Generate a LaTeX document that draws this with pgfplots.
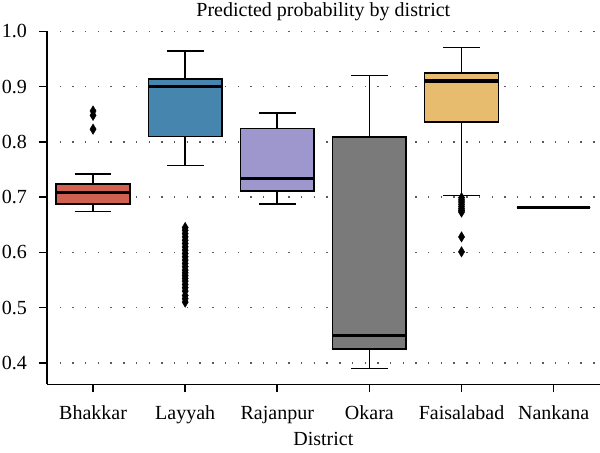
\documentclass[border=0pt]{standalone}
\usepackage{fontspec}
\setmainfont{Liberation Serif}
\usepackage{pgfplots}
\pgfplotsset{compat=1.18}
\usepgfplotslibrary{statistics}
\definecolor{cB}{HTML}{D0604F}
\definecolor{cL}{HTML}{4585AE}
\definecolor{cR}{HTML}{9E97CD}
\definecolor{cO}{HTML}{7A7A7A}
\definecolor{cF}{HTML}{E7BC6F}
\begin{document}
\begin{tikzpicture}
\useasboundingbox (-47bp,-67.7bp) rectangle (553bp,384.4bp);
\begin{axis}[
  at={(0,0)}, anchor=south west,
  scale only axis, width=552.7bp, height=353bp,
  xmin=-0.5, xmax=5.5, ymin=0.361, ymax=1.0,
  axis x line*=bottom, axis y line*=left,
  axis line style={-, line width=1.6bp, black},
  tick align=outside, major tick length=8bp,
  tick style={black, line width=1.6bp},
  xtick={0,1,2,3,4,5},
  xticklabels={Bhakkar,Layyah,Rajanpur,Okara,Faisalabad,Nankana},
  ytick={0.4,0.5,0.6,0.7,0.8,0.9,1.0},
  yticklabel style={/pgf/number format/fixed, /pgf/number format/fixed zerofill, /pgf/number format/precision=1, /pgf/number format/assume math mode=true},
  ticklabel style={font=\fontsize{20bp}{24bp}\selectfont},
  xticklabel style={anchor=base, yshift=-27.4bp},
  yticklabel style={anchor=east, inner sep=0pt, xshift=-12bp},
  ymajorgrids,
  major grid style={dash pattern=on 1.4bp off 11.3bp, line width=1.4bp, color=black!65},
  title={Predicted probability by district},
  title style={font=\fontsize{20bp}{24bp}\selectfont, at={(axis description cs:0.5,1)}, anchor=base, yshift=9.4bp},
  xlabel={District},
  xlabel style={font=\fontsize{20bp}{24bp}\selectfont, at={(axis description cs:0.5,0)}, anchor=base, yshift=-60.7bp},
  boxplot/draw direction=y,
  boxplot/every median/.style={line width=3.4bp, draw=black},
  boxplot/every whisker/.style={line width=1.6bp, draw=black},
  boxplot/every box/.style={line width=1.6bp, draw=black},
  clip=false,
]
% Bhakkar
\addplot[boxplot prepared={draw direction=y, lower whisker=0.674, lower quartile=0.688, median=0.708, upper quartile=0.724, upper whisker=0.742, draw position=0, box extend=0.8, whisker extend=0.4},
  fill=cB, draw=black, line width=1.6bp, mark=diamond*, mark size=5.2bp, mark options={fill=black, draw=black, line width=0.4bp, xscale=0.8}]
  coordinates {(0,0.823) (0,0.848) (0,0.856)};
% Layyah
\addplot[boxplot prepared={draw direction=y, lower whisker=0.757, lower quartile=0.810, median=0.900, upper quartile=0.914, upper whisker=0.965, draw position=1, box extend=0.8, whisker extend=0.4},
  fill=cL, draw=black, line width=1.6bp, mark=diamond*, mark size=5.2bp, mark options={fill=black, draw=black, line width=0.4bp, xscale=0.8}]
  coordinates {(1,0.510) (1,0.516) (1,0.522) (1,0.530) (1,0.536) (1,0.542) (1,0.548) (1,0.553) (1,0.558) (1,0.563) (1,0.568) (1,0.574) (1,0.580) (1,0.586) (1,0.592) (1,0.598) (1,0.604) (1,0.610) (1,0.616) (1,0.622) (1,0.628) (1,0.634) (1,0.640) (1,0.645)};
% Rajanpur
\addplot[boxplot prepared={draw direction=y, lower whisker=0.688, lower quartile=0.711, median=0.734, upper quartile=0.824, upper whisker=0.852, draw position=2, box extend=0.8, whisker extend=0.4},
  fill=cR, draw=black, line width=1.6bp]
  coordinates {};
% Okara
\addplot[boxplot prepared={draw direction=y, lower whisker=0.390, lower quartile=0.425, median=0.449, upper quartile=0.809, upper whisker=0.920, draw position=3, box extend=0.8, whisker extend=0.4},
  fill=cO, draw=black, line width=1.6bp]
  coordinates {};
% Faisalabad
\addplot[boxplot prepared={draw direction=y, lower whisker=0.703, lower quartile=0.836, median=0.910, upper quartile=0.925, upper whisker=0.971, draw position=4, box extend=0.8, whisker extend=0.4},
  fill=cF, draw=black, line width=1.6bp, mark=diamond*, mark size=5.2bp, mark options={fill=black, draw=black, line width=0.4bp, xscale=0.8}]
  coordinates {(4,0.699) (4,0.695) (4,0.691) (4,0.687) (4,0.683) (4,0.679) (4,0.676) (4,0.673) (4,0.628) (4,0.601)};
% Nankana
\addplot[boxplot prepared={draw direction=y, lower whisker=0.681, lower quartile=0.681, median=0.681, upper quartile=0.681, upper whisker=0.681, draw position=5, box extend=0.8, whisker extend=0.4},
  fill=white, draw=black, line width=1.6bp]
  coordinates {};
\end{axis}
\end{tikzpicture}
\end{document}
